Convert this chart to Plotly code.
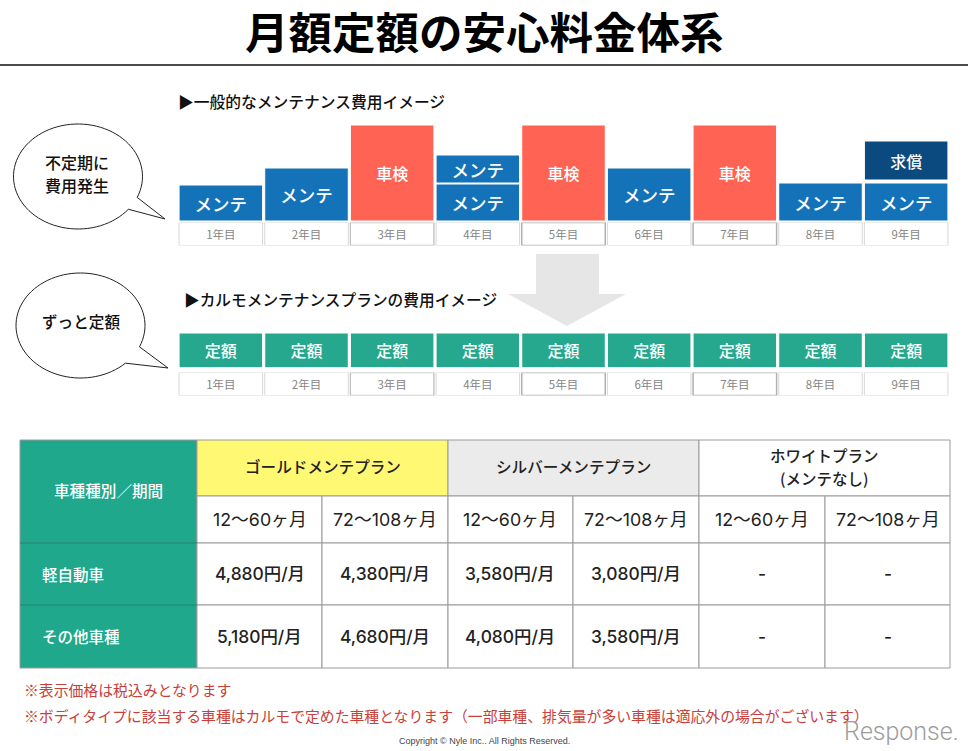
import numpy as np
import plotly.graph_objects as go

W, H = 968, 751
FONT = "Noto Sans CJK JP"
NUM_FONT = "Inter, Noto Sans CJK JP"

# ---------- data ----------
YEARS = ["1年目", "2年目", "3年目", "4年目", "5年目", "6年目", "7年目", "8年目", "9年目"]
MAINT_YEARS = ["1年目", "2年目", "4年目", "6年目", "8年目", "9年目"]
MAINT_COST = [36, 53, 37, 53, 38, 38]
EXTRA_MAINT_YEARS = ["4年目"]
EXTRA_MAINT_COST = [28]
EXTRA_MAINT_BASE = [38]
INSPECT_YEARS = ["3年目", "5年目", "7年目"]
INSPECT_COST = [96, 96, 96]
REPAIR_YEARS = ["9年目"]
REPAIR_COST = [39]
REPAIR_BASE = [41]
FLAT_COST = [1, 1, 1, 1, 1, 1, 1, 1, 1]

PLANS = ["ゴールドメンテプラン", "シルバーメンテプラン"]
WHITE_PLAN = ["ホワイトプラン", "(メンテなし)"]
PERIODS = ["12〜60ヶ月", "72〜108ヶ月"] * 3
ROW_HEAD = ["軽自動車", "その他車種"]
PRICES = [
    ["4,880円/月", "4,380円/月", "3,580円/月", "3,080円/月", "-", "-"],
    ["5,180円/月", "4,680円/月", "4,080円/月", "3,580円/月", "-", "-"],
]

BLUE, RED, NAVY, GREEN = "#1472B8", "#FF6353", "#0B4A7E", "#25A88D"
TGREEN, YELLOW, SILVER, GRID = "#1FA88C", "#FFF873", "#EBEBEB", "#9A9A9A"


def px(x):
    return x / W


def py(y):
    return 1 - y / H


def dom_y(top, bottom):
    return [py(bottom), py(top)]


fig = go.Figure()


def bar(xa, ya, x, y, color, text, size=16, tcolor="white", base=None, line="#FFFFFF", lw=1, width=0.975, weight=500):
    fig.add_trace(go.Bar(
        x=x, y=y, base=base, xaxis=xa, yaxis=ya, width=width,
        marker=dict(color=color, line=dict(color=line, width=lw)),
        text=text, textposition="inside", insidetextanchor="middle", textangle=0,
        constraintext="none", cliponaxis=False,
        textfont=dict(family=FONT, size=size, color=tcolor, weight=weight),
        hoverinfo="skip", showlegend=False,
    ))


bar("x", "y", MAINT_YEARS, MAINT_COST, BLUE, ["メンテ"] * len(MAINT_YEARS), size=17.5)
bar("x", "y", EXTRA_MAINT_YEARS, EXTRA_MAINT_COST, BLUE, ["メンテ"], base=EXTRA_MAINT_BASE, size=17.5)
bar("x", "y", INSPECT_YEARS, INSPECT_COST, RED, ["車検"] * 3)
bar("x", "y", REPAIR_YEARS, REPAIR_COST, NAVY, ["求償"], base=REPAIR_BASE)

box_lines = ["#D8D8D8", "#D8D8D8", "#C0C0C0", "#D8D8D8", "#B0B0B0", "#D8D8D8", "#B0B0B0", "#D8D8D8", "#D8D8D8"]
box_widths = [1, 1, 1.3, 1, 1.5, 1, 1.5, 1, 1]
bar("x2", "y2", YEARS, FLAT_COST, "#FFFFFF", YEARS, size=11.5, tcolor="#858585", line=box_lines, lw=box_widths, weight=400)
bar("x3", "y3", YEARS, FLAT_COST, GREEN, ["定額"] * 9, size=16)
bar("x4", "y4", YEARS, FLAT_COST, "#FFFFFF", YEARS, size=11.5, tcolor="#858585", line=box_lines, lw=box_widths, weight=400)


def axis(dom):
    return dict(domain=dom, visible=False, fixedrange=True, type="category",
                categoryorder="array", categoryarray=YEARS, range=[-0.5, 8.5])


def yaxis(dom, rng, anchor):
    return dict(domain=dom, visible=False, fixedrange=True, range=rng, anchor=anchor)


X1 = [px(178), px(949)]
X2 = [px(178), px(949)]

shapes, annos = [], []


def label(x, y, text, size, color="#111111", weight=500, xanchor="center", family=FONT):
    annos.append(dict(x=px(x), y=py(y), xref="paper", yref="paper", text=text, showarrow=False,
                      xanchor=xanchor, yanchor="middle", align="center",
                      font=dict(family=family, size=size, color=color, weight=weight)))


def rect(x0, y0, x1, y1, fill, line=GRID, lw=1):
    shapes.append(dict(type="rect", xref="paper", yref="paper", x0=px(x0), x1=px(x1), y0=py(y0), y1=py(y1),
                       fillcolor=fill, line=dict(color=line, width=lw), layer="below"))


def poly(points, fill, line=None, lw=0):
    d = "M" + " L".join(f"{px(a):.5f},{py(b):.5f}" for a, b in points) + " Z"
    shapes.append(dict(type="path", xref="paper", yref="paper", path=d, fillcolor=fill,
                       line=dict(color=line or fill, width=lw), layer="below"))


def bubble(cx, cy, rx, ry, a, tip, b):
    """Ellipse outline broken by a pointed tail: a and b are the tail's feet."""
    ang_a = np.arctan2((a[1] - cy) / ry, (a[0] - cx) / rx)
    ang_b = np.arctan2((b[1] - cy) / ry, (b[0] - cx) / rx)
    t = np.linspace(ang_a, ang_b - 2 * np.pi if ang_b > ang_a else ang_b, 90)
    if abs(t[-1] - t[0]) < np.pi:
        t = np.linspace(ang_a, ang_b + 2 * np.pi, 90)
    pts = [(cx + rx * np.cos(v), cy + ry * np.sin(v)) for v in t]
    poly(pts + [tip], "#FFFFFF", "#222222", 1)


# Title
label(484, 31, "月額定額の安心料金体系", 43.5, "#000000", 700)
shapes.append(dict(type="line", xref="paper", yref="paper", x0=0, x1=1, y0=py(65), y1=py(65),
                   line=dict(color="#111111", width=1.6)))

# Section titles
label(176, 102, "▶一般的なメンテナンス費用イメージ", 15.75, xanchor="left")
label(182, 300, "▶カルモメンテナンスプランの費用イメージ", 15.7, xanchor="left")

# Speech bubbles
bubble(78, 176.5, 64.5, 52.5, (136, 197), (165, 219), (128, 209))
label(77, 161.5, "不定期に", 16)
label(77, 184.5, "費用発生", 16)
bubble(80.5, 325.5, 64.5, 52.5, (140, 347), (168, 368), (130, 367))
label(81, 320.5, "ずっと定額", 15.6)

# Big arrow
poly([(536, 254), (599, 254), (599, 294), (626, 294), (567, 326), (508, 294), (536, 294)], "#E6E6E6")

# Table
XS = [20, 197, 322, 448, 573, 699, 825, 950]
YS = [440, 496, 543, 605, 668]
rect(XS[0], YS[0], XS[1], YS[4], TGREEN)
for i, fill in enumerate([YELLOW, SILVER, "#FFFFFF"]):
    rect(XS[1 + 2 * i], YS[0], XS[3 + 2 * i], YS[1], fill)
for i in range(2):
    label((XS[1 + 2 * i] + XS[3 + 2 * i]) / 2, 466.5, PLANS[i], 15.6, "#222222")
label((XS[5] + XS[7]) / 2, 455, WHITE_PLAN[0], 15.5, "#222222")
label((XS[5] + XS[7]) / 2, 478.5, WHITE_PLAN[1], 15.5, "#222222")
for c in range(6):
    rect(XS[c + 1], YS[1], XS[c + 2], YS[2], "#FFFFFF")
    label((XS[c + 1] + XS[c + 2]) / 2, 519.5, PERIODS[c], 17.8, "#222222", 400, family=NUM_FONT)
    for r in range(2):
        rect(XS[c + 1], YS[r + 2], XS[c + 2], YS[r + 3], "#FFFFFF")
        label((XS[c + 1] + XS[c + 2]) / 2, (YS[r + 2] + YS[r + 3]) / 2 - 0.5, PRICES[r][c], 17.4, "#222222", 500, family=NUM_FONT)
for y in (YS[2], YS[3]):
    shapes.append(dict(type="line", xref="paper", yref="paper", x0=px(XS[0]), x1=px(XS[1]), y0=py(y), y1=py(y),
                       line=dict(color="#2E7F6E", width=1)))
label(108, 490, "車種種別／期間", 15.6, "#FFFFFF")
label(40, 573.5, ROW_HEAD[0], 15.5, "#FFFFFF", xanchor="left")
label(40, 635.5, ROW_HEAD[1], 15.5, "#FFFFFF", xanchor="left")

# Notes
NOTE_RED = "#C9403A"
label(22, 689.5, "※表示価格は税込みとなります", 14.85, NOTE_RED, 400, "left")
label(22, 715.5, "※ボディタイプに該当する車種はカルモで定めた車種となります（一部車種、排気量が多い車種は適応外の場合がございます）",
      14.85, NOTE_RED, 400, "left")
label(484, 741, "Copyright © Nyle Inc.. All Rights Reserved.", 9, "#444444", 400, family="Liberation Sans")
label(901, 731, "Response.", 25, "#9C9C9C", 300, family="Roboto")

fig.update_layout(
    width=W, height=H, margin=dict(l=0, r=0, t=0, b=0, pad=0),
    paper_bgcolor="#FFFFFF", plot_bgcolor="rgba(0,0,0,0)",
    barmode="overlay", showlegend=False, shapes=shapes, annotations=annos,
    font=dict(family=FONT),
    xaxis=dict(axis(X1), anchor="y"),
    yaxis=yaxis(dom_y(125, 221), [0, 96], "x"),
    xaxis2=dict(axis(X1), anchor="y2"),
    yaxis2=yaxis(dom_y(222.5, 245.5), [0, 1], "x2"),
    xaxis3=dict(axis(X2), anchor="y3"),
    yaxis3=yaxis(dom_y(333, 367.5), [0, 1], "x3"),
    xaxis4=dict(axis(X2), anchor="y4"),
    yaxis4=yaxis(dom_y(372.5, 395.5), [0, 1], "x4"),
)

fig.write_html("out.html", config=dict(displayModeBar=False),
               post_script="document.body.style.margin='0';document.body.style.overflow='hidden';")
